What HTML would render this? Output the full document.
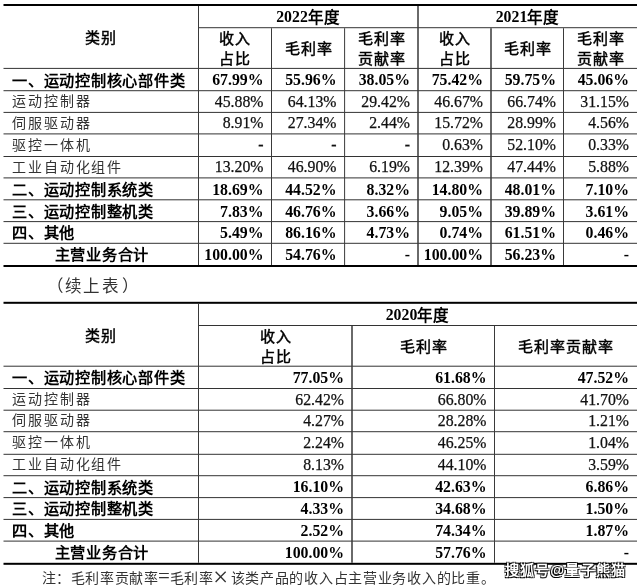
<!DOCTYPE html>
<html lang="zh-CN"><head><meta charset="utf-8">
<style>
html,body{margin:0;padding:0;background:#fff;}
body{will-change:transform;text-spacing-trim:space-all;width:640px;height:586px;position:relative;overflow:hidden;font-family:"Liberation Serif",serif;font-size:15.4px;color:#111;}
.l{position:absolute;}
.c{position:absolute;display:flex;align-items:center;box-sizing:border-box;white-space:nowrap;line-height:20px;text-align:center;}
.b{font-weight:bold;color:#000;}
.b.num{font-size:15.8px;padding-top:1.6px;}
.n.num{padding-top:0.4px;}
.n.num{font-size:15.8px;-webkit-text-stroke:0.25px #111;}
.n{font-weight:normal;color:#111;}
.hd{font-weight:normal;color:#000;}
.hk{font-size:15px;letter-spacing:1px;margin-right:-1px;-webkit-text-stroke:0.45px #000;position:relative;top:1px;}
.bk{font-size:15.2px;letter-spacing:0.75px;position:relative;top:1px;}
.nk{font-size:14px;letter-spacing:1.9px;color:#333;position:relative;top:0.5px;}
.c .bk, .c .nk{margin-right:0}
.gk{font-size:15.5px;position:relative;top:0.5px;}
.xu{position:absolute;left:0;top:273px;width:640px;height:22px;font-size:16.5px;color:#333;}
.xu span{position:absolute;top:0;}
.note{position:absolute;left:0;top:567px;width:640px;height:19px;font-size:14px;letter-spacing:0.65px;color:#333;white-space:nowrap;}
.note span{position:absolute;top:0;}
.wm{position:absolute;left:504.5px;top:558.5px;font-size:14.2px;letter-spacing:1.25px;font-weight:bold;color:#fff;white-space:nowrap;
 text-shadow:-1px 1px 0 #000,1px 1px 0 rgba(0,0,0,.85),-1px -1px 0 rgba(0,0,0,.7),1px -1px 0 rgba(0,0,0,.6);font-family:"Liberation Sans",sans-serif;}

.note .x{font-size:27px;letter-spacing:0;top:-5px;}
.note .eq{font-size:21px;letter-spacing:0;top:-3px;}

</style></head><body>
<svg width="640" height="586" style="position:absolute;left:0;top:0"><rect x="3.50" y="4.00" width="633.50" height="2.00" fill="#000"/><rect x="198.50" y="27.20" width="438.50" height="1.00" fill="#333"/><rect x="3.50" y="67.90" width="633.50" height="1.00" fill="#333"/><rect x="3.50" y="90.20" width="633.50" height="1.00" fill="#333"/><rect x="3.50" y="111.90" width="633.50" height="1.00" fill="#333"/><rect x="3.50" y="133.40" width="633.50" height="1.00" fill="#333"/><rect x="3.50" y="156.00" width="633.50" height="1.00" fill="#333"/><rect x="3.50" y="177.40" width="633.50" height="1.00" fill="#333"/><rect x="3.50" y="199.30" width="633.50" height="1.00" fill="#333"/><rect x="3.50" y="221.10" width="633.50" height="1.00" fill="#333"/><rect x="3.50" y="242.80" width="633.50" height="1.00" fill="#333"/><rect x="3.50" y="265.00" width="633.50" height="2.00" fill="#000"/><rect x="198.00" y="6.00" width="1.00" height="259.00" fill="#3a3a3a"/><rect x="271.00" y="28.20" width="1.00" height="236.80" fill="#3a3a3a"/><rect x="344.10" y="28.20" width="1.00" height="236.80" fill="#3a3a3a"/><rect x="417.25" y="6.00" width="1.50" height="259.00" fill="#3a3a3a"/><rect x="490.25" y="28.20" width="1.50" height="236.80" fill="#3a3a3a"/><rect x="563.00" y="28.20" width="1.00" height="236.80" fill="#3a3a3a"/><rect x="3.50" y="301.80" width="633.50" height="2.00" fill="#000"/><rect x="198.50" y="325.00" width="438.50" height="1.00" fill="#333"/><rect x="3.50" y="365.70" width="633.50" height="1.00" fill="#333"/><rect x="3.50" y="388.00" width="633.50" height="1.00" fill="#333"/><rect x="3.50" y="409.70" width="633.50" height="1.00" fill="#333"/><rect x="3.50" y="431.20" width="633.50" height="1.00" fill="#333"/><rect x="3.50" y="453.80" width="633.50" height="1.00" fill="#333"/><rect x="3.50" y="475.20" width="633.50" height="1.00" fill="#333"/><rect x="3.50" y="497.10" width="633.50" height="1.00" fill="#333"/><rect x="3.50" y="518.90" width="633.50" height="1.00" fill="#333"/><rect x="3.50" y="540.60" width="633.50" height="1.00" fill="#333"/><rect x="3.50" y="562.80" width="633.50" height="2.00" fill="#000"/><rect x="198.00" y="303.80" width="1.00" height="259.00" fill="#3a3a3a"/><rect x="351.25" y="326.00" width="1.50" height="236.80" fill="#3a3a3a"/><rect x="494.00" y="326.00" width="1.00" height="236.80" fill="#3a3a3a"/></svg>
<div class="c hd" style="left:3px;top:6px;width:195px;height:61.900000000000006px;justify-content:center;"><span class="hk">类别</span></div>
<div class="c b num" style="left:198px;top:6px;width:220px;height:21.2px;justify-content:center;">2022<span class="gk">年度</span></div>
<div class="c b num" style="left:418px;top:6px;width:219px;height:21.2px;justify-content:center;">2021<span class="gk">年度</span></div>
<div class="c hd" style="left:198px;top:28.2px;width:73.5px;height:39.7px;justify-content:center;"><span class="hk">收入<br>占比</span></div>
<div class="c hd" style="left:271.5px;top:28.2px;width:73.0px;height:39.7px;justify-content:center;"><span class="hk">毛利率</span></div>
<div class="c hd" style="left:344.5px;top:28.2px;width:73.5px;height:39.7px;justify-content:center;"><span class="hk">毛利率<br>贡献率</span></div>
<div class="c hd" style="left:418px;top:28.2px;width:73px;height:39.7px;justify-content:center;"><span class="hk">收入<br>占比</span></div>
<div class="c hd" style="left:491px;top:28.2px;width:73px;height:39.7px;justify-content:center;"><span class="hk">毛利率</span></div>
<div class="c hd" style="left:564px;top:28.2px;width:73px;height:39.7px;justify-content:center;"><span class="hk">毛利率<br>贡献率</span></div>
<div class="c b" style="left:3px;top:68.9px;width:195px;height:21.299999999999997px;justify-content:flex-start;padding-left:9px;"><span class="bk">一、运动控制核心部件类</span></div>
<div class="c b num" style="left:198px;top:68.9px;width:73.5px;height:21.299999999999997px;justify-content:flex-end;padding-right:8px;">67.99%</div>
<div class="c b num" style="left:271.5px;top:68.9px;width:73.0px;height:21.299999999999997px;justify-content:flex-end;padding-right:8px;">55.96%</div>
<div class="c b num" style="left:344.5px;top:68.9px;width:73.5px;height:21.299999999999997px;justify-content:flex-end;padding-right:8px;">38.05%</div>
<div class="c b num" style="left:418px;top:68.9px;width:73px;height:21.299999999999997px;justify-content:flex-end;padding-right:8px;">75.42%</div>
<div class="c b num" style="left:491px;top:68.9px;width:73px;height:21.299999999999997px;justify-content:flex-end;padding-right:8px;">59.75%</div>
<div class="c b num" style="left:564px;top:68.9px;width:73px;height:21.299999999999997px;justify-content:flex-end;padding-right:8px;">45.06%</div>
<div class="c n" style="left:3px;top:91.2px;width:195px;height:20.700000000000003px;justify-content:flex-start;padding-left:9px;"><span class="nk">运动控制器</span></div>
<div class="c n num" style="left:198px;top:91.2px;width:73.5px;height:20.700000000000003px;justify-content:flex-end;padding-right:8px;">45.88%</div>
<div class="c n num" style="left:271.5px;top:91.2px;width:73.0px;height:20.700000000000003px;justify-content:flex-end;padding-right:8px;">64.13%</div>
<div class="c n num" style="left:344.5px;top:91.2px;width:73.5px;height:20.700000000000003px;justify-content:flex-end;padding-right:8px;">29.42%</div>
<div class="c n num" style="left:418px;top:91.2px;width:73px;height:20.700000000000003px;justify-content:flex-end;padding-right:8px;">46.67%</div>
<div class="c n num" style="left:491px;top:91.2px;width:73px;height:20.700000000000003px;justify-content:flex-end;padding-right:8px;">66.74%</div>
<div class="c n num" style="left:564px;top:91.2px;width:73px;height:20.700000000000003px;justify-content:flex-end;padding-right:8px;">31.15%</div>
<div class="c n" style="left:3px;top:112.9px;width:195px;height:20.5px;justify-content:flex-start;padding-left:9px;"><span class="nk">伺服驱动器</span></div>
<div class="c n num" style="left:198px;top:112.9px;width:73.5px;height:20.5px;justify-content:flex-end;padding-right:8px;">8.91%</div>
<div class="c n num" style="left:271.5px;top:112.9px;width:73.0px;height:20.5px;justify-content:flex-end;padding-right:8px;">27.34%</div>
<div class="c n num" style="left:344.5px;top:112.9px;width:73.5px;height:20.5px;justify-content:flex-end;padding-right:8px;">2.44%</div>
<div class="c n num" style="left:418px;top:112.9px;width:73px;height:20.5px;justify-content:flex-end;padding-right:8px;">15.72%</div>
<div class="c n num" style="left:491px;top:112.9px;width:73px;height:20.5px;justify-content:flex-end;padding-right:8px;">28.99%</div>
<div class="c n num" style="left:564px;top:112.9px;width:73px;height:20.5px;justify-content:flex-end;padding-right:8px;">4.56%</div>
<div class="c n" style="left:3px;top:134.4px;width:195px;height:21.599999999999994px;justify-content:flex-start;padding-left:9px;"><span class="nk">驱控一体机</span></div>
<div class="c n num" style="left:198px;top:134.4px;width:73.5px;height:21.599999999999994px;justify-content:flex-end;padding-right:8px;"><b>-</b></div>
<div class="c n num" style="left:271.5px;top:134.4px;width:73.0px;height:21.599999999999994px;justify-content:flex-end;padding-right:8px;"><b>-</b></div>
<div class="c n num" style="left:344.5px;top:134.4px;width:73.5px;height:21.599999999999994px;justify-content:flex-end;padding-right:8px;"><b>-</b></div>
<div class="c n num" style="left:418px;top:134.4px;width:73px;height:21.599999999999994px;justify-content:flex-end;padding-right:8px;">0.63%</div>
<div class="c n num" style="left:491px;top:134.4px;width:73px;height:21.599999999999994px;justify-content:flex-end;padding-right:8px;">52.10%</div>
<div class="c n num" style="left:564px;top:134.4px;width:73px;height:21.599999999999994px;justify-content:flex-end;padding-right:8px;">0.33%</div>
<div class="c n" style="left:3px;top:157.0px;width:195px;height:20.400000000000006px;justify-content:flex-start;padding-left:9px;"><span class="nk">工业自动化组件</span></div>
<div class="c n num" style="left:198px;top:157.0px;width:73.5px;height:20.400000000000006px;justify-content:flex-end;padding-right:8px;">13.20%</div>
<div class="c n num" style="left:271.5px;top:157.0px;width:73.0px;height:20.400000000000006px;justify-content:flex-end;padding-right:8px;">46.90%</div>
<div class="c n num" style="left:344.5px;top:157.0px;width:73.5px;height:20.400000000000006px;justify-content:flex-end;padding-right:8px;">6.19%</div>
<div class="c n num" style="left:418px;top:157.0px;width:73px;height:20.400000000000006px;justify-content:flex-end;padding-right:8px;">12.39%</div>
<div class="c n num" style="left:491px;top:157.0px;width:73px;height:20.400000000000006px;justify-content:flex-end;padding-right:8px;">47.44%</div>
<div class="c n num" style="left:564px;top:157.0px;width:73px;height:20.400000000000006px;justify-content:flex-end;padding-right:8px;">5.88%</div>
<div class="c b" style="left:3px;top:178.4px;width:195px;height:20.900000000000006px;justify-content:flex-start;padding-left:9px;"><span class="bk">二、运动控制系统类</span></div>
<div class="c b num" style="left:198px;top:178.4px;width:73.5px;height:20.900000000000006px;justify-content:flex-end;padding-right:8px;">18.69%</div>
<div class="c b num" style="left:271.5px;top:178.4px;width:73.0px;height:20.900000000000006px;justify-content:flex-end;padding-right:8px;">44.52%</div>
<div class="c b num" style="left:344.5px;top:178.4px;width:73.5px;height:20.900000000000006px;justify-content:flex-end;padding-right:8px;">8.32%</div>
<div class="c b num" style="left:418px;top:178.4px;width:73px;height:20.900000000000006px;justify-content:flex-end;padding-right:8px;">14.80%</div>
<div class="c b num" style="left:491px;top:178.4px;width:73px;height:20.900000000000006px;justify-content:flex-end;padding-right:8px;">48.01%</div>
<div class="c b num" style="left:564px;top:178.4px;width:73px;height:20.900000000000006px;justify-content:flex-end;padding-right:8px;">7.10%</div>
<div class="c b" style="left:3px;top:200.3px;width:195px;height:20.799999999999983px;justify-content:flex-start;padding-left:9px;"><span class="bk">三、运动控制整机类</span></div>
<div class="c b num" style="left:198px;top:200.3px;width:73.5px;height:20.799999999999983px;justify-content:flex-end;padding-right:8px;">7.83%</div>
<div class="c b num" style="left:271.5px;top:200.3px;width:73.0px;height:20.799999999999983px;justify-content:flex-end;padding-right:8px;">46.76%</div>
<div class="c b num" style="left:344.5px;top:200.3px;width:73.5px;height:20.799999999999983px;justify-content:flex-end;padding-right:8px;">3.66%</div>
<div class="c b num" style="left:418px;top:200.3px;width:73px;height:20.799999999999983px;justify-content:flex-end;padding-right:8px;">9.05%</div>
<div class="c b num" style="left:491px;top:200.3px;width:73px;height:20.799999999999983px;justify-content:flex-end;padding-right:8px;">39.89%</div>
<div class="c b num" style="left:564px;top:200.3px;width:73px;height:20.799999999999983px;justify-content:flex-end;padding-right:8px;">3.61%</div>
<div class="c b" style="left:3px;top:222.1px;width:195px;height:20.700000000000017px;justify-content:flex-start;padding-left:9px;"><span class="bk">四、其他</span></div>
<div class="c b num" style="left:198px;top:222.1px;width:73.5px;height:20.700000000000017px;justify-content:flex-end;padding-right:8px;">5.49%</div>
<div class="c b num" style="left:271.5px;top:222.1px;width:73.0px;height:20.700000000000017px;justify-content:flex-end;padding-right:8px;">86.16%</div>
<div class="c b num" style="left:344.5px;top:222.1px;width:73.5px;height:20.700000000000017px;justify-content:flex-end;padding-right:8px;">4.73%</div>
<div class="c b num" style="left:418px;top:222.1px;width:73px;height:20.700000000000017px;justify-content:flex-end;padding-right:8px;">0.74%</div>
<div class="c b num" style="left:491px;top:222.1px;width:73px;height:20.700000000000017px;justify-content:flex-end;padding-right:8px;">61.51%</div>
<div class="c b num" style="left:564px;top:222.1px;width:73px;height:20.700000000000017px;justify-content:flex-end;padding-right:8px;">0.46%</div>
<div class="c b" style="left:3px;top:243.8px;width:195px;height:21.19999999999999px;justify-content:center;padding-left:2.5px;"><span class="bk">主营业务合计</span></div>
<div class="c b num" style="left:198px;top:243.8px;width:73.5px;height:21.19999999999999px;justify-content:flex-end;padding-right:8px;">100.00%</div>
<div class="c b num" style="left:271.5px;top:243.8px;width:73.0px;height:21.19999999999999px;justify-content:flex-end;padding-right:8px;">54.76%</div>
<div class="c b num" style="left:344.5px;top:243.8px;width:73.5px;height:21.19999999999999px;justify-content:flex-end;padding-right:8px;"><b>-</b></div>
<div class="c b num" style="left:418px;top:243.8px;width:73px;height:21.19999999999999px;justify-content:flex-end;padding-right:8px;">100.00%</div>
<div class="c b num" style="left:491px;top:243.8px;width:73px;height:21.19999999999999px;justify-content:flex-end;padding-right:8px;">56.23%</div>
<div class="c b num" style="left:564px;top:243.8px;width:73px;height:21.19999999999999px;justify-content:flex-end;padding-right:8px;"><b>-</b></div>
<div class="c hd" style="left:3px;top:303.8px;width:195px;height:61.900000000000034px;justify-content:center;"><span class="hk">类别</span></div>
<div class="c b num" style="left:198px;top:303.8px;width:439px;height:21.19999999999999px;justify-content:center;">2020<span class="gk">年度</span></div>
<div class="c hd" style="left:198px;top:326.0px;width:154px;height:39.700000000000045px;justify-content:center;"><span class="hk">收入<br>占比</span></div>
<div class="c hd" style="left:352px;top:326.0px;width:142.5px;height:39.700000000000045px;justify-content:center;"><span class="hk">毛利率</span></div>
<div class="c hd" style="left:494.5px;top:326.0px;width:142.5px;height:39.700000000000045px;justify-content:center;"><span class="hk">毛利率贡献率</span></div>
<div class="c b" style="left:3px;top:366.70000000000005px;width:195px;height:21.299999999999955px;justify-content:flex-start;padding-left:9px;"><span class="bk">一、运动控制核心部件类</span></div>
<div class="c b num" style="left:198px;top:366.70000000000005px;width:154px;height:21.299999999999955px;justify-content:flex-end;padding-right:8px;">77.05%</div>
<div class="c b num" style="left:352px;top:366.70000000000005px;width:142.5px;height:21.299999999999955px;justify-content:flex-end;padding-right:8px;">61.68%</div>
<div class="c b num" style="left:494.5px;top:366.70000000000005px;width:142.5px;height:21.299999999999955px;justify-content:flex-end;padding-right:8px;">47.52%</div>
<div class="c n" style="left:3px;top:389.0px;width:195px;height:20.700000000000045px;justify-content:flex-start;padding-left:9px;"><span class="nk">运动控制器</span></div>
<div class="c n num" style="left:198px;top:389.0px;width:154px;height:20.700000000000045px;justify-content:flex-end;padding-right:8px;">62.42%</div>
<div class="c n num" style="left:352px;top:389.0px;width:142.5px;height:20.700000000000045px;justify-content:flex-end;padding-right:8px;">66.80%</div>
<div class="c n num" style="left:494.5px;top:389.0px;width:142.5px;height:20.700000000000045px;justify-content:flex-end;padding-right:8px;">41.70%</div>
<div class="c n" style="left:3px;top:410.70000000000005px;width:195px;height:20.5px;justify-content:flex-start;padding-left:9px;"><span class="nk">伺服驱动器</span></div>
<div class="c n num" style="left:198px;top:410.70000000000005px;width:154px;height:20.5px;justify-content:flex-end;padding-right:8px;">4.27%</div>
<div class="c n num" style="left:352px;top:410.70000000000005px;width:142.5px;height:20.5px;justify-content:flex-end;padding-right:8px;">28.28%</div>
<div class="c n num" style="left:494.5px;top:410.70000000000005px;width:142.5px;height:20.5px;justify-content:flex-end;padding-right:8px;">1.21%</div>
<div class="c n" style="left:3px;top:432.20000000000005px;width:195px;height:21.599999999999966px;justify-content:flex-start;padding-left:9px;"><span class="nk">驱控一体机</span></div>
<div class="c n num" style="left:198px;top:432.20000000000005px;width:154px;height:21.599999999999966px;justify-content:flex-end;padding-right:8px;">2.24%</div>
<div class="c n num" style="left:352px;top:432.20000000000005px;width:142.5px;height:21.599999999999966px;justify-content:flex-end;padding-right:8px;">46.25%</div>
<div class="c n num" style="left:494.5px;top:432.20000000000005px;width:142.5px;height:21.599999999999966px;justify-content:flex-end;padding-right:8px;">1.04%</div>
<div class="c n" style="left:3px;top:454.8px;width:195px;height:20.400000000000034px;justify-content:flex-start;padding-left:9px;"><span class="nk">工业自动化组件</span></div>
<div class="c n num" style="left:198px;top:454.8px;width:154px;height:20.400000000000034px;justify-content:flex-end;padding-right:8px;">8.13%</div>
<div class="c n num" style="left:352px;top:454.8px;width:142.5px;height:20.400000000000034px;justify-content:flex-end;padding-right:8px;">44.10%</div>
<div class="c n num" style="left:494.5px;top:454.8px;width:142.5px;height:20.400000000000034px;justify-content:flex-end;padding-right:8px;">3.59%</div>
<div class="c b" style="left:3px;top:476.20000000000005px;width:195px;height:20.899999999999977px;justify-content:flex-start;padding-left:9px;"><span class="bk">二、运动控制系统类</span></div>
<div class="c b num" style="left:198px;top:476.20000000000005px;width:154px;height:20.899999999999977px;justify-content:flex-end;padding-right:8px;">16.10%</div>
<div class="c b num" style="left:352px;top:476.20000000000005px;width:142.5px;height:20.899999999999977px;justify-content:flex-end;padding-right:8px;">42.63%</div>
<div class="c b num" style="left:494.5px;top:476.20000000000005px;width:142.5px;height:20.899999999999977px;justify-content:flex-end;padding-right:8px;">6.86%</div>
<div class="c b" style="left:3px;top:498.1px;width:195px;height:20.799999999999955px;justify-content:flex-start;padding-left:9px;"><span class="bk">三、运动控制整机类</span></div>
<div class="c b num" style="left:198px;top:498.1px;width:154px;height:20.799999999999955px;justify-content:flex-end;padding-right:8px;">4.33%</div>
<div class="c b num" style="left:352px;top:498.1px;width:142.5px;height:20.799999999999955px;justify-content:flex-end;padding-right:8px;">34.68%</div>
<div class="c b num" style="left:494.5px;top:498.1px;width:142.5px;height:20.799999999999955px;justify-content:flex-end;padding-right:8px;">1.50%</div>
<div class="c b" style="left:3px;top:519.9px;width:195px;height:20.700000000000045px;justify-content:flex-start;padding-left:9px;"><span class="bk">四、其他</span></div>
<div class="c b num" style="left:198px;top:519.9px;width:154px;height:20.700000000000045px;justify-content:flex-end;padding-right:8px;">2.52%</div>
<div class="c b num" style="left:352px;top:519.9px;width:142.5px;height:20.700000000000045px;justify-content:flex-end;padding-right:8px;">74.34%</div>
<div class="c b num" style="left:494.5px;top:519.9px;width:142.5px;height:20.700000000000045px;justify-content:flex-end;padding-right:8px;">1.87%</div>
<div class="c b" style="left:3px;top:541.6px;width:195px;height:21.199999999999932px;justify-content:center;padding-left:2.5px;"><span class="bk">主营业务合计</span></div>
<div class="c b num" style="left:198px;top:541.6px;width:154px;height:21.199999999999932px;justify-content:flex-end;padding-right:8px;">100.00%</div>
<div class="c b num" style="left:352px;top:541.6px;width:142.5px;height:21.199999999999932px;justify-content:flex-end;padding-right:8px;">57.76%</div>
<div class="c b num" style="left:494.5px;top:541.6px;width:142.5px;height:21.199999999999932px;justify-content:flex-end;padding-right:8px;"><b>-</b></div>
<div class="xu"><span style="left:46.5px">（</span><span style="left:65px">续</span><span style="left:83px">上</span><span style="left:102px">表</span><span style="left:121.5px">）</span></div>
<div class="note"><span style="left:41.5px">注：毛利率贡献率</span><span class="eq" style="left:158px">=</span><span style="left:169.5px">毛利率</span><span class="x" style="left:213px">×</span><span style="left:230.5px;letter-spacing:0.72px">该类产品的收入占主营业务收入的比重。</span></div>
<div class="wm">搜狐号@量子熊猫</div>
</body></html>
